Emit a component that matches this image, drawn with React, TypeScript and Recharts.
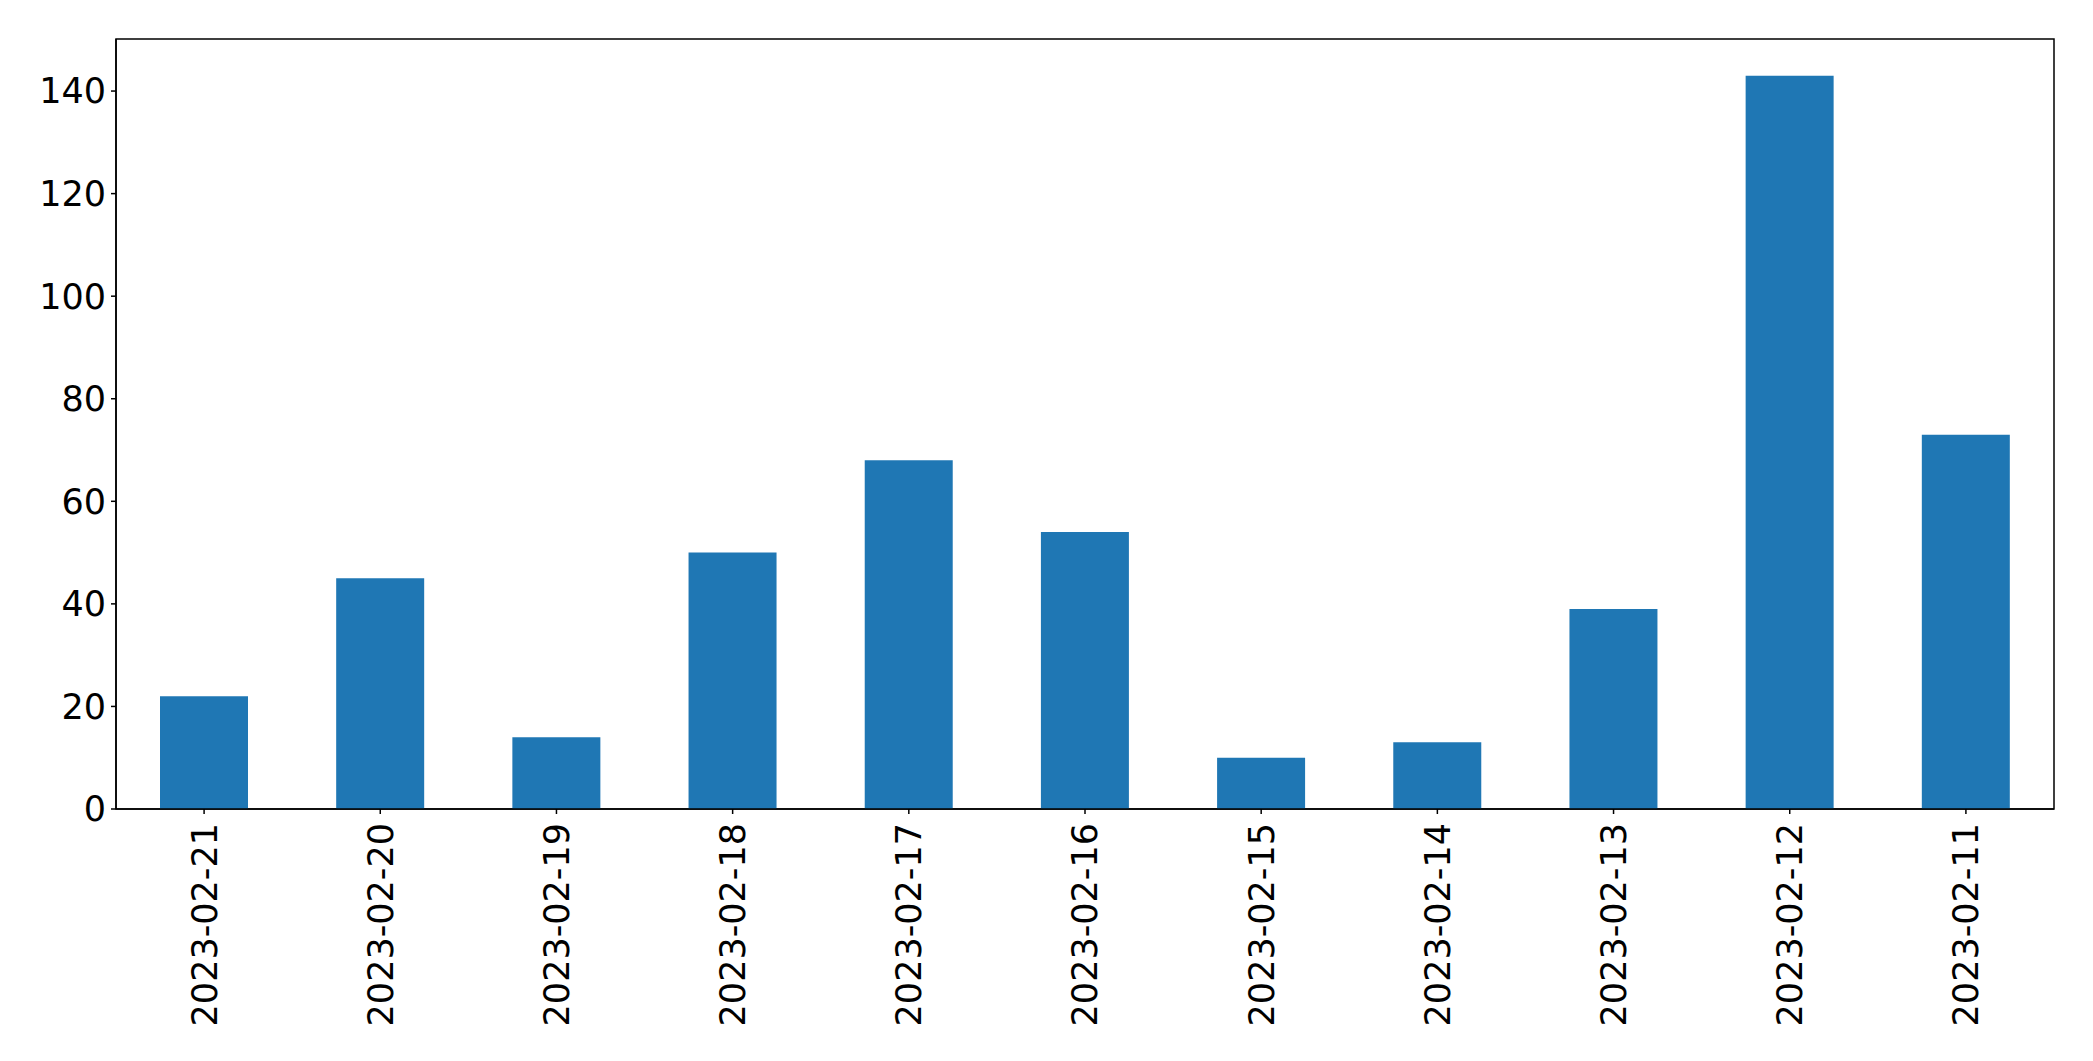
import React from 'react';
import { BarChart, Bar, XAxis, YAxis, ReferenceArea } from 'recharts';

const dates = ['2023-02-21', '2023-02-20', '2023-02-19', '2023-02-18', '2023-02-17', '2023-02-16', '2023-02-15', '2023-02-14', '2023-02-13', '2023-02-12', '2023-02-11'];
const counts = [22, 45, 14, 50, 68, 54, 10, 13, 39, 143, 73];
const yTicks = [0, 20, 40, 60, 80, 100, 120, 140];
const yMax = 150.15;

const data = dates.map((d, i) => ({ date: d, count: counts[i] }));

const FONT = 'DejaVu Sans';
const FS = 35;

const XTick = (props: any) => {
  const { x, y, payload } = props;
  return (
    <g transform={`translate(${x},${y})`}>
      <text
        x={0}
        y={0}
        dy="0.355em"
        textAnchor="end"
        transform="rotate(-90)"
        fontFamily={FONT}
        fontSize={FS}
        fill="#000"
      >
        {payload.value}
      </text>
    </g>
  );
};

export default function App() {
  return (
    <div style={{ position: 'absolute', left: 0, top: 0, background: '#fff' }}>
      <BarChart
        width={2093}
        height={1061}
        data={data}
        margin={{ top: 39, right: 39, left: 0, bottom: 0 }}
      >
        <XAxis
          dataKey="date"
          height={252}
          interval={0}
          tick={<XTick />}
          tickSize={5}
          tickMargin={9}
          axisLine={{ stroke: '#000', strokeWidth: 1.5 }}
          tickLine={{ stroke: '#000', strokeWidth: 1.5 }}
        />
        <YAxis
          width={116}
          domain={[0, yMax]}
          ticks={yTicks}
          interval={0}
          tickSize={5}
          tickMargin={5}
          tick={{ fontFamily: FONT, fontSize: FS, fill: '#000' }}
          axisLine={{ stroke: '#000', strokeWidth: 1.5 }}
          tickLine={{ stroke: '#000', strokeWidth: 1.5 }}
        />
        <Bar
          dataKey="count"
          fill="#1f77b4"
          barSize={88}
          isAnimationActive={false}
        />
        <ReferenceArea
          x1={dates[0]}
          x2={dates[dates.length - 1]}
          y1={0}
          y2={yMax}
          fill="none"
          fillOpacity={0}
          stroke="#000"
          strokeWidth={1.5}
          strokeOpacity={1}
          ifOverflow="visible"
        />
      </BarChart>
    </div>
  );
}
